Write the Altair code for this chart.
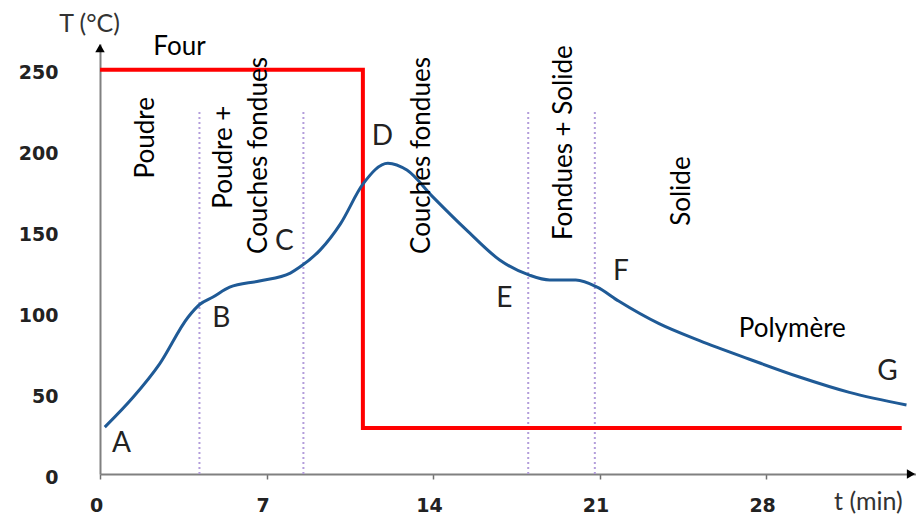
import altair as alt
import pandas as pd

# ---- data ----
curve_t = [0.2, 1.4, 2.5, 3.7, 4.2, 4.75, 5.45, 6.7, 8.0, 8.4, 9.25, 10.1, 11.05, 12.1, 12.9,
           14.0, 15.4, 16.8, 18.05, 18.9, 20.0, 20.9, 21.8, 23.5, 25.2, 27.3, 29.4, 31.5, 33.9]
curve_T = [29, 47.6, 68, 97, 105, 109.5, 115.6, 119.4, 124.3, 128, 138.5, 154.6, 179.3, 192.3, 188,
           171.3, 151, 132.4, 123, 120, 120, 115.6, 107, 93, 82.5, 71, 60, 50.5, 42.7]

oven_t = [0, 11.05, 11.05, 33.7]
oven_T = [250, 250, 28.5, 28.5]

phase_t = [4.18, 8.55, 18.0, 20.8]
phase_top = 225

rot_labels = ["Poudre", "Poudre +", "Couches fondues", "Couches fondues", "Fondues + Solide", "Solide"]
rot_t = [1.95, 5.2, 6.7, 13.55, 19.52, 24.48]
rot_T = [208, 196, 197, 197, 205, 175]

pt_labels = ["A", "B", "C", "D", "E", "F", "G"]
pt_t = [0.9, 5.1, 7.75, 11.87, 17.0, 21.9, 33.1]
pt_T = [18.6, 95.9, 143.5, 208.5, 108.3, 125, 63.1]

misc_labels = ["Four", "Polymère"]
misc_t = [3.34, 29.1]
misc_T = [264, 89.7]

title_labels = ["T (°C)"]
title_t = [-0.44]
title_T = [278.5]

xtitle_labels = ["t (min)"]
xtitle_t = [32.3]
xtitle_T = [-22.5]

arrow_t = [0, 34.09]
arrow_T = [263.5, 0]
arrow_shape = ["triangle-up", "triangle-right"]

x_ticks = [0, 7, 14, 21, 28]
y_ticks = [0, 50, 100, 150, 200, 250]

X_MAX = 34.3
Y_MAX = 266

# ---- tables ----
curve_df = pd.DataFrame({"t": curve_t, "T": curve_T})
oven_df = pd.DataFrame({"t": oven_t, "T": oven_T, "i": list(range(len(oven_t)))})
phase_df = pd.DataFrame({"t": phase_t, "y0": [0] * len(phase_t), "y1": [phase_top] * len(phase_t)})
rot_df = pd.DataFrame({"label": rot_labels, "t": rot_t, "T": rot_T})
pt_df = pd.DataFrame({"label": pt_labels, "t": pt_t, "T": pt_T})
misc_df = pd.DataFrame({"label": misc_labels, "t": misc_t, "T": misc_T})
title_df = pd.DataFrame({"label": title_labels, "t": title_t, "T": title_T})
xtitle_df = pd.DataFrame({"label": xtitle_labels, "t": xtitle_t, "T": xtitle_T})
arrow_df = pd.DataFrame({"t": arrow_t, "T": arrow_T, "shape": arrow_shape})

xscale = alt.Scale(domain=[0, X_MAX], nice=False, zero=False)
yscale = alt.Scale(domain=[0, Y_MAX], nice=False, zero=False)

xaxis = alt.Axis(values=x_ticks, title=None, grid=False, domainColor="#808080", domainWidth=2,
                 tickColor="#707070", tickWidth=1.5, tickSize=5, labelFont="DejaVu Sans",
                 labelFontWeight="bold", labelFontSize=19, labelColor="#222222",
                 labelPadding=17, labelFlush=False, labelOffset=-4)
yaxis = alt.Axis(values=y_ticks, title=None, grid=False, domainColor="#808080", domainWidth=2,
                 ticks=False, labelFont="DejaVu Sans", labelFontWeight="bold", labelFontSize=19,
                 labelColor="#222222", labelPadding=42, labelFlush=False, labelOffset=3)


def X():
    return alt.X("t:Q", scale=xscale, axis=xaxis)


def Y():
    return alt.Y("T:Q", scale=yscale, axis=yaxis)


phases = alt.Chart(phase_df).mark_rule(color="#b39ddb", strokeWidth=2, strokeDash=[2, 3]).encode(
    x=alt.X("t:Q", scale=xscale, axis=xaxis),
    y=alt.Y("y0:Q", scale=yscale, axis=yaxis),
    y2="y1:Q",
)

oven = alt.Chart(oven_df).mark_line(color="#ff0000", strokeWidth=4, strokeJoin="miter").encode(
    x=X(), y=Y(), order="i:Q"
)

curve = alt.Chart(curve_df).mark_line(color="#1f5a96", strokeWidth=3, interpolate="monotone").encode(
    x=X(), y=Y()
)

rot_text = alt.Chart(rot_df).mark_text(angle=270, font="Lato", fontSize=26, color="#000000",
                                        align="center", baseline="middle").encode(
    x=X(), y=Y(), text="label:N"
)

pt_text = alt.Chart(pt_df).mark_text(font="Lato", fontSize=28, color="#222222",
                                      align="center", baseline="middle").encode(
    x=X(), y=Y(), text="label:N"
)

misc_text = alt.Chart(misc_df).mark_text(font="Lato", fontSize=26, color="#000000",
                                          align="center", baseline="middle").encode(
    x=X(), y=Y(), text="label:N"
)

title_text = alt.Chart(title_df).mark_text(font="Lato", fontSize=25, color="#333333",
                                            align="center", baseline="middle").encode(
    x=X(), y=Y(), text="label:N"
)

xtitle_text = alt.Chart(xtitle_df).mark_text(font="Lato", fontSize=25, color="#333333",
                                              align="center", baseline="alphabetic").encode(
    x=X(), y=Y(), text="label:N"
)

arrows = alt.Chart(arrow_df).mark_point(filled=True, color="#000000", size=90, opacity=1).encode(
    x=X(), y=Y(), shape=alt.Shape("shape:N", scale=None)
)

chart = alt.layer(phases, oven, curve, rot_text, pt_text, misc_text, title_text, xtitle_text,
                  arrows).properties(
    width=816, height=430,
    autosize=alt.AutoSizeParams(type="none"),
    padding={"left": 92, "top": 36, "right": 0, "bottom": 45},
    background="white",
).configure_view(stroke=None)

chart.save("out.html", embed_options={"renderer": "svg", "actions": False})
